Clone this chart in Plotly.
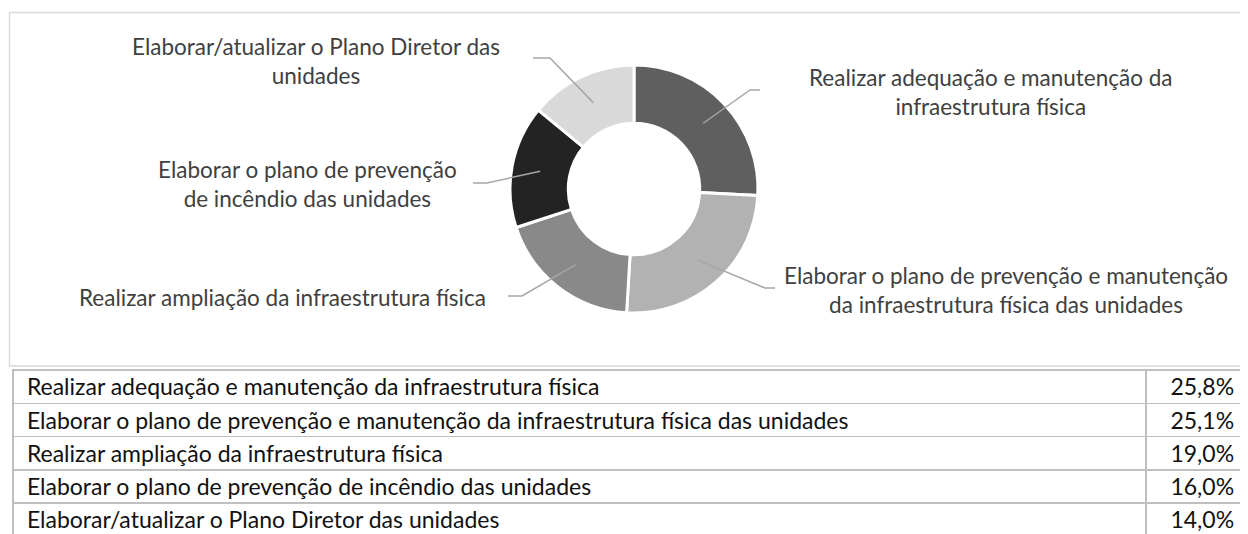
import math

import plotly.graph_objects as go

# the page body adds an 8px margin, so the figure is drawn 8px smaller
OFF = 8
W, H = 1248 - OFF, 534 - OFF

categories = [
    "Realizar adequação e manutenção da infraestrutura física",
    "Elaborar o plano de prevenção e manutenção da infraestrutura física das unidades",
    "Realizar ampliação da infraestrutura física",
    "Elaborar o plano de prevenção de incêndio das unidades",
    "Elaborar/atualizar o Plano Diretor das unidades",
]
chart_labels = [
    "Realizar adequação e manutenção da<br>infraestrutura física",
    "Elaborar o plano de prevenção e manutenção<br>da infraestrutura física das unidades",
    "Realizar ampliação da infraestrutura física",
    "Elaborar o plano de prevenção<br>de incêndio das unidades",
    "Elaborar/atualizar o Plano Diretor das<br>unidades",
]
values = [25.8, 25.1, 19.0, 16.0, 14.0]
value_labels = ["25,8%", "25,1%", "19,0%", "16,0%", "14,0%"]

colors = ["#5f5f5f", "#b2b2b2", "#898989", "#232323", "#d9d9d9"]

# donut placement in screen pixels
cx, cy, R = 634, 189, 124
# elbow and end of each leader line, label anchor (screen pixels)
elbows = [(750, 90), (765, 288), (522, 296), (487, 183), (550, 58)]
ends = [(760, 90), (775, 288), (508, 296), (473, 183), (533, 58)]
label_pos = [(991, 92, "center"), (1006, 290, "center"), (488, 297, "right"),
             (307, 184, "center"), (316, 61, "center")]


def px(x):
    return (x - OFF) / W


def py(y):
    return 1 - (y - OFF) / H


fig = go.Figure()

fig.add_trace(go.Pie(
    values=values,
    labels=categories,
    sort=False,
    direction="clockwise",
    rotation=0,
    hole=0.53,
    textinfo="none",
    hoverinfo="label+percent",
    marker=dict(colors=colors, line=dict(color="white", width=3)),
    domain=dict(x=[px(cx - R), px(cx + R)], y=[py(cy + R), py(cy - R)]),
    showlegend=False,
))

# leader lines and outside labels
total = sum(values)
acc = 0
shapes = []
annotations = []
for i, v in enumerate(values):
    mid = (acc + v / 2) / total * 2 * math.pi
    acc += v
    r0 = R * 0.77
    sx, sy = cx + r0 * math.sin(mid), cy - r0 * math.cos(mid)
    ex, ey = elbows[i]
    tx, ty = ends[i]
    shapes.append(dict(
        type="path", xref="paper", yref="paper",
        path=f"M {px(sx)} {py(sy)} L {px(ex)} {py(ey)} L {px(tx)} {py(ty)}",
        line=dict(color="#a6a6a6", width=1.5),
    ))
    lx, ly, anchor = label_pos[i]
    annotations.append(dict(
        x=px(lx), y=py(ly), xref="paper", yref="paper",
        text=chart_labels[i], showarrow=False,
        xanchor=anchor, yanchor="middle", align="center",
        font=dict(family="Lato", size=22.5, color="#404040"),
    ))

# chart frame
shapes.append(dict(
    type="rect", xref="paper", yref="paper",
    x0=px(9.5), x1=px(1260), y0=py(366), y1=py(12.5),
    line=dict(color="#d9d9d9", width=1.5), layer="below",
))

# table under the chart: first row is drawn as the header row, same style
cat_text = ["\u00a0" + c for c in categories]
pct_text = [v + "\u00a0" for v in value_labels]
row_style = dict(
    align=["left", "right"],
    height=33.3,
    line=dict(color="#bfbfbf", width=1.5),
    fill=dict(color="white"),
    font=dict(family="Lato", size=23, color="#111111"),
)
fig.add_trace(go.Table(
    domain=dict(x=[px(13), 1.0], y=[0, py(370)]),
    columnwidth=[1133, 102],
    header=dict(values=[cat_text[0], pct_text[0]], **row_style),
    cells=dict(values=[cat_text[1:], pct_text[1:]], **row_style),
))

fig.update_layout(
    width=W, height=H,
    margin=dict(l=0, r=0, t=0, b=0),
    paper_bgcolor="white",
    plot_bgcolor="white",
    shapes=shapes,
    annotations=annotations,
)

fig.write_html("out.html")
